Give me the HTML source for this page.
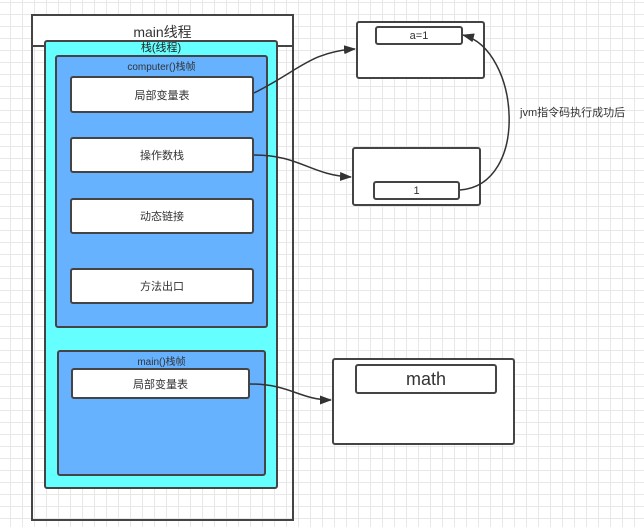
<!DOCTYPE html>
<html><head><meta charset="utf-8"><style>
body{margin:0;width:644px;height:527px;overflow:hidden;font-family:"Liberation Sans","Noto Sans CJK SC",sans-serif;
background-color:#fff;background-image:linear-gradient(#e8e8e8 1px,transparent 1px),linear-gradient(90deg,#e8e8e8 1px,transparent 1px);background-size:12px 12px;background-position:-2px 2px;}
.b{position:absolute;box-sizing:border-box;border:2px solid #444;border-radius:3px;color:#333;text-align:center;}
.w{background:#fff;font-size:11px;display:flex;align-items:center;justify-content:center;}
.t{position:absolute;left:0;right:0;font-size:10px;color:#333;text-align:center;}
</style></head><body>
<div class="b" style="left:31px;top:14px;width:263px;height:507px;border-radius:0;border-color:#444"></div>
<div style="position:absolute;left:33px;top:16px;width:259px;height:29px;background:#fff;border-bottom:2px solid #444;font-size:14px;color:#333;text-align:center;line-height:32px">main线程</div>
<div class="b" style="left:44px;top:40px;width:234px;height:449px;background:#66ffff"><div class="t" style="top:-3px;font-size:11px;color:#222">栈(线程)</div></div>
<div class="b" style="left:55px;top:55px;width:213px;height:273px;background:#66b2ff"><div class="t" style="top:1px">computer()栈帧</div></div>
<div class="b w" style="left:70px;top:76px;width:184px;height:37px">局部变量表</div>
<div class="b w" style="left:70px;top:137px;width:184px;height:36px">操作数栈</div>
<div class="b w" style="left:70px;top:198px;width:184px;height:36px">动态链接</div>
<div class="b w" style="left:70px;top:268px;width:184px;height:36px">方法出口</div>
<div class="b" style="left:57px;top:350px;width:209px;height:126px;background:#66b2ff"><div class="t" style="top:1px">main()栈帧</div></div>
<div class="b w" style="left:71px;top:368px;width:179px;height:31px">局部变量表</div>
<div class="b" style="left:356px;top:21px;width:129px;height:58px;background:#fff"></div>
<div class="b w" style="left:375px;top:26px;width:88px;height:19px">a=1</div>
<div class="b" style="left:352px;top:147px;width:129px;height:59px;background:#fff"></div>
<div class="b w" style="left:373px;top:181px;width:87px;height:19px">1</div>
<div class="b" style="left:332px;top:358px;width:183px;height:87px;background:#fff"></div>
<div class="b w" style="left:355px;top:364px;width:142px;height:30px;font-size:18px">math</div>
<div style="position:absolute;left:520px;top:104px;font-size:11px;color:#333">jvm指令码执行成功后</div>
<svg width="644" height="527" style="position:absolute;left:0;top:0">
<defs><marker id="a" markerWidth="12" markerHeight="9" refX="11" refY="4.5" orient="auto" markerUnits="userSpaceOnUse"><path d="M0,0 L12,4.5 L0,9 z" fill="#333"/></marker></defs>
<g fill="none" stroke="#333" stroke-width="1.5" marker-end="url(#a)">
<path d="M254,93 C300,70 310,52 355,49"/>
<path d="M254,155 C300,155 310,175 351,177"/>
<path d="M460,190 C530,185 520,50 463,35"/>
<path d="M250,384 C290,384 300,400 331,400"/>
</g></svg>
</body></html>
